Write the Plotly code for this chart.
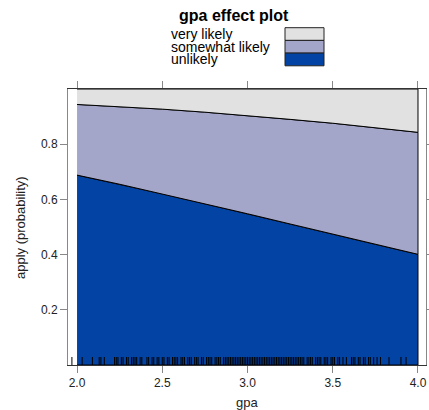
import plotly.graph_objects as go

# ---- data ----
gpa = [2.0, 2.25, 2.5, 2.75, 3.0, 3.25, 3.5, 3.75, 4.0]
p_unlikely = [0.688, 0.655, 0.620, 0.584, 0.548, 0.511, 0.474, 0.437, 0.401]
p_somewhat = [0.256, 0.281, 0.307, 0.332, 0.356, 0.379, 0.402, 0.423, 0.442]
p_very = [0.056, 0.064, 0.073, 0.084, 0.096, 0.110, 0.124, 0.140, 0.157]
categories = ["unlikely", "somewhat likely", "very likely"]
colors = ["#0343a3", "#a4a6c9", "#e1e1e1"]
rug_gpa = [1.97, 2.03, 2.09, 2.13, 2.14, 2.16, 2.22, 2.23, 2.24, 2.26, 2.27, 2.29,
           2.30, 2.32, 2.33, 2.34, 2.35, 2.37, 2.38, 2.41, 2.42, 2.44, 2.45, 2.47,
           2.48, 2.50, 2.51, 2.53, 2.54, 2.56, 2.57, 2.58, 2.59, 2.61, 2.62, 2.63,
           2.65, 2.66, 2.67, 2.69, 2.70, 2.71, 2.73, 2.74, 2.76, 2.77, 2.78, 2.79,
           2.81, 2.82, 2.83, 2.84, 2.86, 2.87, 2.88, 2.89, 2.90, 2.91, 2.92, 2.93,
           2.94, 2.95, 2.96, 2.97, 2.98, 2.99, 3.00, 3.01, 3.02, 3.03, 3.04, 3.05,
           3.06, 3.07, 3.08, 3.09, 3.10, 3.11, 3.12, 3.13, 3.14, 3.15, 3.16, 3.17,
           3.18, 3.19, 3.20, 3.21, 3.22, 3.23, 3.24, 3.25, 3.26, 3.27, 3.28, 3.29,
           3.30, 3.31, 3.32, 3.33, 3.35, 3.36, 3.37, 3.38, 3.40, 3.41, 3.42, 3.43,
           3.45, 3.46, 3.47, 3.49, 3.50, 3.51, 3.53, 3.54, 3.56, 3.58, 3.61, 3.62,
           3.63, 3.65, 3.66, 3.68, 3.69, 3.71, 3.72, 3.74, 3.76, 3.78, 3.83, 3.90,
           3.93]
x_ticks = [2.0, 2.5, 3.0, 3.5, 4.0]
y_ticks = [0.2, 0.4, 0.6, 0.8]

FONT = "Liberation Sans, Arial, sans-serif"

fig = go.Figure()

# stacked bands as closed polygons
probs = [p_unlikely, p_somewhat, p_very]
lower = [0.0] * len(gpa)
for cat, p, col in zip(categories, probs, colors):
    upper = [lo + v for lo, v in zip(lower, p)]
    fig.add_trace(go.Scatter(
        x=gpa + gpa[::-1], y=upper + lower[::-1], fill="toself",
        fillcolor=col, mode="lines", line=dict(color="black", width=1),
        name=cat, showlegend=False, hoverinfo="skip"))
    lower = upper

# rug
rx, ry = [], []
for g in rug_gpa:
    rx += [g, g, None]
    ry += [0.0, 0.029, None]
fig.add_trace(go.Scatter(x=rx, y=ry, mode="lines",
                         line=dict(color="black", width=1),
                         showlegend=False, hoverinfo="skip", cliponaxis=False))

# plot area geometry in pixels
L, R, T, B = 68, 3, 89, 45
W, H = 429, 410
pw, ph = W - L - R, H - T - B


def px(xp):
    return (xp - L) / pw


def py(yp):
    return (H - B - yp) / ph


annotations = [
    dict(text="<b>gpa effect plot</b>", x=px(234), y=py(16), xref="paper", yref="paper",
         showarrow=False, font=dict(size=16, family=FONT, color="black"),
         xanchor="center", yanchor="middle"),
    dict(text="gpa", x=px(247), y=py(402), xref="paper", yref="paper",
         showarrow=False, font=dict(size=13, family=FONT, color="#222"),
         xanchor="center", yanchor="middle"),
    dict(text="apply (probability)", x=px(20), y=py(228), xref="paper", yref="paper",
         showarrow=False, textangle=-90, font=dict(size=13, family=FONT, color="#222"),
         xanchor="center", yanchor="middle"),
]

shapes = []
box_top = 27.7
box_h = 12.7
for i, cat in enumerate(categories[::-1]):
    col = colors[::-1][i]
    y0 = box_top + i * box_h
    shapes.append(dict(type="rect", xref="paper", yref="paper",
                       x0=px(285), x1=px(324), y0=py(y0), y1=py(y0 + box_h),
                       fillcolor=col, line=dict(color="#222", width=1)))
    annotations.append(dict(text=cat, x=px(170), y=py(y0 + box_h / 2), xref="paper",
                            yref="paper", showarrow=False, xanchor="left",
                            yanchor="middle", borderpad=0,
                            font=dict(size=14, family=FONT, color="black")))

fig.update_layout(
    width=W, height=H,
    margin=dict(l=L, r=R, t=T, b=B, autoexpand=False),
    plot_bgcolor="white", paper_bgcolor="white",
    showlegend=False,
    annotations=annotations, shapes=shapes,
    font=dict(family=FONT, size=12, color="#222"),
    xaxis=dict(range=[1.947, 4.047], tickvals=x_ticks, automargin=False,
               ticktext=[f"{v:.1f}" for v in x_ticks],
               ticks="outside", ticklen=7, tickcolor="#888", showgrid=False,
               zeroline=False, showline=True, linecolor="#333", mirror="ticks",
               tickfont=dict(size=12, family=FONT, color="#222")),
    yaxis=dict(range=[0, 1.0], tickvals=y_ticks, automargin=False,
               ticktext=[f"{v:.1f}" for v in y_ticks],
               ticks="outside", ticklen=7, tickcolor="#888", showgrid=False,
               zeroline=False, showline=True, linecolor="#888", mirror="ticks",
               tickfont=dict(size=12, family=FONT, color="#222")),
)

fig.write_html("out.html")
